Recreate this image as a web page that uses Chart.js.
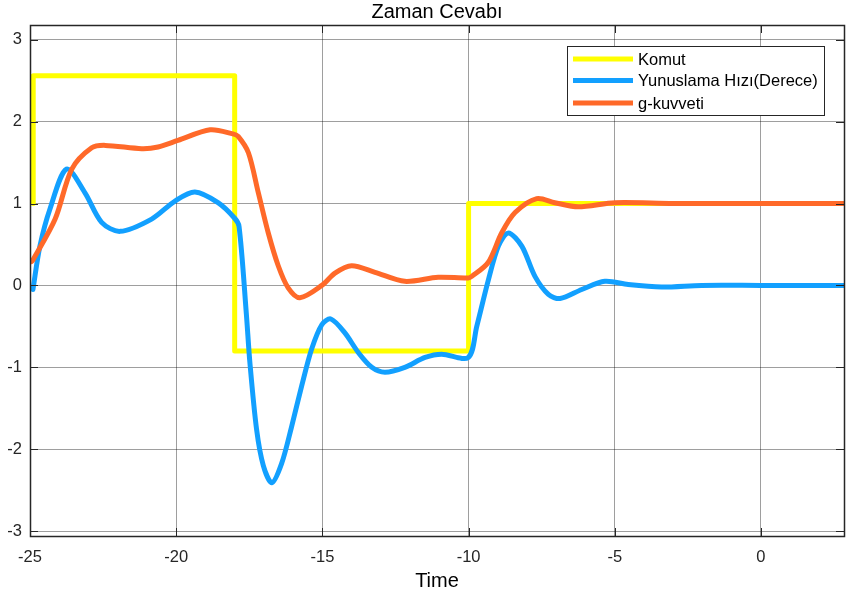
<!DOCTYPE html>
<html>
<head>
<meta charset="utf-8">
<script src="https://cdn.jsdelivr.net/npm/chart.js@4/dist/chart.umd.min.js"></script>
<style>
  html, body { margin: 0; padding: 0; background: #ffffff; }
  #wrap { width: 858px; height: 602px; }
</style>
</head>
<body>
<div id="wrap"><canvas id="c" width="858" height="602"></canvas></div>
<script>
// Time axis and tick values
const xTicks = [-25, -20, -15, -10, -5, 0];
const yTicks = [-3, -2, -1, 0, 1, 2, 3];

// Komut (command step signal)
const komutT = [-24.89, -24.89, -18.0, -18.0, -10.0, -10.0, 2.84];
const komutV = [1.0, 2.56, 2.56, -0.8, -0.8, 1.0, 1.0];

// Yunuslama Hızı (pitch rate, degrees)
const hizT = [-24.9, -24.66, -24.32, -23.75, -23.12, -22.55, -21.92, -20.84, -20.04, -19.36, -18.57,
  -18.0, -17.85, -17.6, -17.48, -17.25, -17.02, -16.73, -16.39, -16.05, -15.71, -15.37, -15.02,
  -14.71, -14.23, -13.77, -13.31, -12.86, -12.18, -11.49, -10.92, -10.01, -9.72, -9.32, -8.98,
  -8.64, -8.18, -7.73, -7.27, -6.87, -6.13, -5.34, -4.54, -3.4, -2.03, 0.0, 2.84];
const hizV = [-0.05, 0.48, 0.93, 1.42, 1.13, 0.77, 0.66, 0.81, 1.03, 1.14, 1.01,
  0.82, 0.72, -0.35, -0.94, -1.76, -2.2, -2.41, -2.17, -1.72, -1.23, -0.78, -0.48,
  -0.41, -0.58, -0.82, -1.0, -1.06, -1.0, -0.88, -0.84, -0.88, -0.5, 0.07, 0.48,
  0.64, 0.48, 0.11, -0.11, -0.16, -0.05, 0.05, 0.01, -0.02, 0.0, 0.0, 0.0];

// g-kuvveti (g-force)
const gT = [-24.95, -24.9, -24.14, -23.57, -22.89, -22.43, -21.18, -20.62, -19.94, -18.84, -18.06,
  -17.88, -17.53, -17.19, -16.85, -16.51, -16.17, -15.77, -15.02, -14.57, -14.0, -13.2, -12.18,
  -11.04, -10.01, -9.89, -9.33, -8.87, -8.41, -7.67, -7.05, -6.25, -4.99, -3.0, 2.84];
const gV = [0.29, 0.31, 0.81, 1.42, 1.68, 1.71, 1.67, 1.69, 1.77, 1.90, 1.85,
  1.82, 1.62, 1.13, 0.64, 0.24, -0.03, -0.15, 0.0, 0.15, 0.24, 0.16, 0.05,
  0.10, 0.09, 0.11, 0.28, 0.64, 0.89, 1.06, 1.01, 0.96, 1.01, 1.0, 1.0];

const seriesLabels = ['Komut', 'Yunuslama Hızı(Derece)', 'g-kuvveti'];
const seriesColors = ['#ffff00', '#12a0ff', '#ff6929'];

const pts = (t, v) => t.map((x, i) => ({ x: x, y: v[i] }));

const FONT = '"Liberation Sans", Arial, Helvetica, sans-serif';
const INK = '#262626';

// Axes box, inward tick marks, title, x label and legend
const decor = {
  id: 'decor',
  afterDraw(chart) {
    const { ctx, chartArea: a, scales } = chart;
    ctx.save();
    ctx.strokeStyle = INK;
    ctx.lineWidth = 1;
    // inward tick marks on all four sides
    ctx.beginPath();
    xTicks.forEach(v => {
      const px = Math.round(scales.x.getPixelForValue(v)) + 0.5;
      ctx.moveTo(px, a.bottom); ctx.lineTo(px, a.bottom - 8);
      ctx.moveTo(px, a.top); ctx.lineTo(px, a.top + 8);
    });
    yTicks.forEach(v => {
      const py = Math.round(scales.y.getPixelForValue(v)) + 0.5;
      ctx.moveTo(a.left, py); ctx.lineTo(a.left + 8, py);
      ctx.moveTo(a.right, py); ctx.lineTo(a.right - 8, py);
    });
    ctx.stroke();
    // axes box
    ctx.lineWidth = 1.5;
    ctx.strokeRect(Math.round(a.left) + 0.5, Math.round(a.top) + 0.5,
      Math.round(a.right - a.left), Math.round(a.bottom - a.top));

    // title
    ctx.fillStyle = '#000000';
    ctx.textAlign = 'center';
    ctx.textBaseline = 'middle';
    ctx.font = '20px ' + FONT;
    ctx.fillText('Zaman Cevabı', (a.left + a.right) / 2, 12);
    // x axis label
    ctx.font = '20px ' + FONT;
    ctx.fillText('Time', (a.left + a.right) / 2, 581);

    // legend
    const bx = 567, by = 46, bw = 257, bh = 69;
    ctx.fillStyle = '#ffffff';
    ctx.fillRect(bx, by, bw, bh);
    ctx.lineWidth = 1;
    ctx.strokeStyle = INK;
    ctx.strokeRect(bx + 0.5, by + 0.5, bw, bh);
    const rows = [59, 80.5, 103];
    ctx.font = '16.5px ' + FONT;
    ctx.textAlign = 'left';
    seriesLabels.forEach((lab, i) => {
      ctx.strokeStyle = seriesColors[i];
      ctx.lineWidth = 5;
      ctx.beginPath();
      ctx.moveTo(573, rows[i]); ctx.lineTo(633, rows[i]);
      ctx.stroke();
      ctx.fillStyle = '#000000';
      ctx.fillText(lab, 638, rows[i] + 1);
    });
    ctx.restore();
  }
};

const lineDs = (label, data, color, order, tension) => ({
  label: label,
  data: data,
  borderColor: color,
  backgroundColor: color,
  borderWidth: 5,
  pointRadius: 0,
  fill: false,
  order: order,
  borderJoinStyle: 'round',
  borderCapStyle: 'round',
  tension: tension
});

new Chart(document.getElementById('c'), {
  type: 'line',
  data: {
    datasets: [
      lineDs(seriesLabels[0], pts(komutT, komutV), seriesColors[0], 2, 0),
      lineDs(seriesLabels[1], pts(hizT, hizV), seriesColors[1], 1, 0.3),
      lineDs(seriesLabels[2], pts(gT, gV), seriesColors[2], 0, 0.3)
    ]
  },
  options: {
    responsive: false,
    devicePixelRatio: 1,
    animation: false,
    events: [],
    layout: { padding: { top: 25, right: 14, left: 0, bottom: 0 } },
    plugins: {
      legend: { display: false },
      title: { display: false },
      tooltip: { enabled: false }
    },
    scales: {
      x: {
        type: 'linear',
        min: -25,
        max: 2.84,
        afterBuildTicks: s => { s.ticks = xTicks.map(v => ({ value: v })); },
        afterFit: s => { s.height = 66; },
        grid: { color: 'rgba(0,0,0,0.38)', lineWidth: 1, drawTicks: false },
        border: { display: false },
        ticks: { color: INK, font: { family: FONT, size: 16.5 }, padding: 12, maxRotation: 0, autoSkip: false }
      },
      y: {
        type: 'linear',
        min: -3.06,
        max: 3.18,
        afterBuildTicks: s => { s.ticks = yTicks.map(v => ({ value: v })); },
        afterFit: s => { s.width = 30; },
        grid: { color: 'rgba(0,0,0,0.38)', lineWidth: 1, drawTicks: false },
        border: { display: false },
        ticks: { color: INK, font: { family: FONT, size: 16.5 }, padding: 8, autoSkip: false }
      }
    }
  },
  plugins: [decor]
});
</script>
</body>
</html>
